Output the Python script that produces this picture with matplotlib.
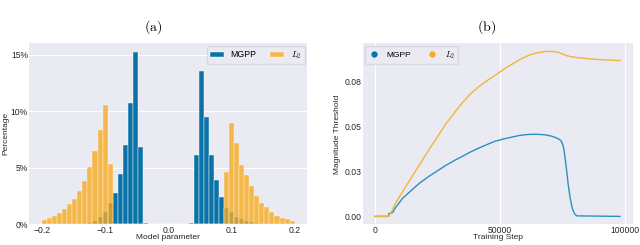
import numpy as np
import matplotlib
matplotlib.use("Agg")
import matplotlib.pyplot as plt
from matplotlib.lines import Line2D
from matplotlib.ticker import FuncFormatter

# (a) histogram of model parameters, percentage per bin (50 bins on [-0.2, 0.2])
bin_edges = np.linspace(-0.2, 0.2, 51)
mgpp_pct = [0, 0, 0, 0, 0, 0, 0, 0.05, 0.08, 0.17,
            0.3, 0.67, 1.1, 1.86, 2.79, 4.45, 6.98, 10.76, 15.2, 6.86,
            0.1, 0, 0, 0, 0, 0, 0, 0, 0, 0.1,
            6.1, 13.55, 9.48, 6.1, 3.92, 2.41, 1.45, 1.1, 0.67, 0.52,
            0.3, 0.2, 0.15, 0.08, 0, 0, 0, 0, 0, 0]
l2_pct = [0.44, 0.61, 0.78, 1.05, 1.37, 1.83, 2.27, 3.0, 3.87, 5.12,
          6.48, 8.37, 10.55, 5.38, 0, 0, 0, 0, 0, 0,
          0, 0, 0, 0, 0, 0, 0, 0, 0, 0,
          0, 0, 0, 0, 0, 0, 4.65, 9.0, 7.2, 5.23,
          4.36, 3.43, 2.5, 1.92, 1.54, 1.1, 0.73, 0.58, 0.47, 0.35]

# (b) magnitude threshold over training steps
mgpp_steps = [0, 5500, 5500, 7100, 8100, 11000, 14800, 18000, 21500, 25000,
              28100, 31500, 34800, 38000, 41500, 45000, 48000, 51500, 54700,
              58000, 61300, 64500, 68000, 70500, 72700, 74000, 74700, 75400,
              76000, 76700, 77300, 78100, 78900, 79800, 80700, 98000]
mgpp_thr = [0, 0, 0.0015, 0.0022, 0.0047, 0.0100, 0.0148, 0.0187, 0.0222,
            0.0254, 0.0282, 0.0309, 0.0333, 0.0357, 0.038, 0.0401, 0.0418,
            0.0431, 0.0441, 0.0451, 0.0456, 0.0457, 0.0454, 0.0447, 0.0436,
            0.0426, 0.0415, 0.0385, 0.0330, 0.0250, 0.0175, 0.0100, 0.0045,
            0.0015, 0.0003, 0]
l2_steps = [0, 5400, 6700, 8100, 11000, 14800, 18000, 21500, 25000, 28100,
            31500, 34800, 38000, 41500, 45000, 48000, 51500, 54700, 58000,
            61300, 64500, 68000, 71000, 73300, 75000, 76700, 79000, 81300,
            84500, 88000, 93000, 98000]
l2_thr = [0, 0, 0.0028, 0.0071, 0.0136, 0.0222, 0.0292, 0.037, 0.0443, 0.051,
          0.0572, 0.063, 0.0679, 0.0722, 0.0757, 0.0785, 0.0818, 0.0846,
          0.0873, 0.0895, 0.0909, 0.0917, 0.0918, 0.0913, 0.0903, 0.0894,
          0.0887, 0.0883, 0.0878, 0.0874, 0.0870, 0.0867]

blue = '#0a72a6'
orange = '#f7ab22'
blue_line = '#2b90c0'
orange_line = '#f5b23e'

plt.rcParams['font.family'] = ['Liberation Sans', 'DejaVu Sans']
plt.rcParams['mathtext.fontset'] = 'cm'

fig = plt.figure(figsize=(6.4, 2.45), dpi=100)
ax1 = fig.add_axes([0.0458, 0.0837, 0.4344, 0.7396])
ax2 = fig.add_axes([0.5667, 0.0837, 0.4219, 0.7396])

for ax in (ax1, ax2):
    ax.set_facecolor('#eaeaf2')
    for s in ax.spines.values():
        s.set_visible(False)
    ax.tick_params(length=0, labelsize=6.2, pad=1.0, labelcolor='#262626')
    ax.set_axisbelow(True)

# ---- (a)
width = bin_edges[1] - bin_edges[0]
ax1.bar(bin_edges[:-1], mgpp_pct, width=width, align='edge', color=blue,
        edgecolor='white', linewidth=0.3, label='MGPP')
ax1.bar(bin_edges[:-1], l2_pct, width=width, align='edge', color=orange,
        alpha=0.8, edgecolor='white', linewidth=0.3, label='$L_2$')
ax1.set_xlim(-0.22, 0.22)
ax1.set_ylim(0, 16.0)
ax1.set_xticks([-0.2, -0.1, 0.0, 0.1, 0.2])
ax1.set_yticks([0, 5, 10, 15])
ax1.yaxis.set_major_formatter(FuncFormatter(lambda v, p: '%d%%' % v))
ax1.grid(axis='y', color='white', linewidth=0.8)
ax1.set_xlabel('Model parameter', fontsize=6, color='#262626')
ax1.set_ylabel('Percentage', fontsize=6, color='#262626')
ax1.xaxis.set_label_coords(0.5, -0.055)
ax1.yaxis.set_label_coords(-0.072, 0.5)
ax1.legend(loc='upper right', ncol=2, fontsize=6.3, frameon=True,
           facecolor='#eaeaf2', edgecolor='#d8d8e0', framealpha=1,
           handlelength=1.6, handleheight=0.6, handletextpad=0.7,
           columnspacing=1.6, borderpad=0.4, borderaxespad=0.3)

# ---- (b)
ax2.plot(mgpp_steps, mgpp_thr, color=blue_line, linewidth=1.0)
ax2.plot(l2_steps, l2_thr, color=orange_line, linewidth=1.0)
ax2.set_xlim(-4920, 103080)
ax2.set_ylim(-0.0045, 0.0963)
ax2.set_xticks([0, 50000, 100000])
ax2.set_yticks([0, 0.025, 0.05, 0.075])
ax2.set_yticklabels(['0.00', '0.03', '0.05', '0.08'])
ax2.grid(axis='x', color='white', linewidth=0.8)
ax2.set_xlabel('Training Step', fontsize=6, color='#262626')
ax2.set_ylabel('Magnitude Threshold', fontsize=6, color='#262626')
ax2.xaxis.set_label_coords(0.5, -0.055)
ax2.yaxis.set_label_coords(-0.08, 0.5)
handles = [Line2D([], [], marker='o', linestyle='none', color=blue, markersize=3.5),
           Line2D([], [], marker='o', linestyle='none', color=orange, markersize=3.5)]
ax2.legend(handles, ['MGPP', '$L_2$'], loc='upper left', ncol=2, fontsize=6,
           frameon=True, facecolor='#eaeaf2', edgecolor='#d8d8e0',
           framealpha=1, handlelength=1.2, handletextpad=1.0,
           columnspacing=1.8, borderpad=0.4, borderaxespad=0.3)

fig.text(153 / 640, 1 - 27 / 245, r'$\mathrm{(a)}$', ha='center', va='center', fontsize=10)
fig.text(487 / 640, 1 - 27 / 245, r'$\mathrm{(b)}$', ha='center', va='center', fontsize=10)

fig.savefig('out.png', dpi=100)
